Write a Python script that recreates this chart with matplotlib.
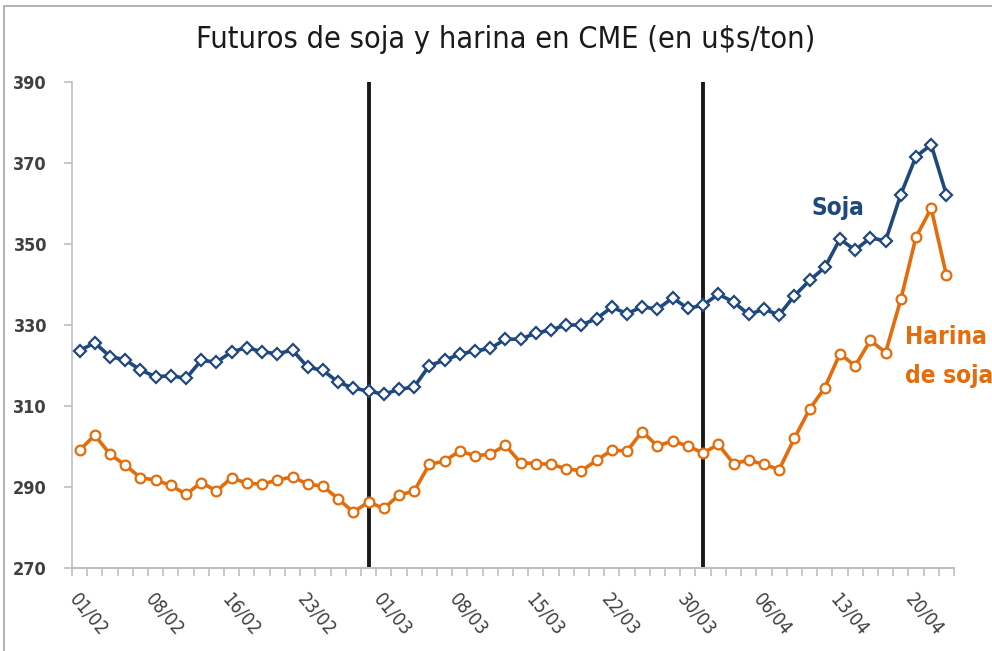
import numpy as np
import matplotlib
matplotlib.use("Agg")
import matplotlib.pyplot as plt
from matplotlib.patches import Rectangle

# fechas (dias habiles CME, feb-abr 2016)
etiquetas = ["01/02", "08/02", "16/02", "23/02", "01/03", "08/03",
             "15/03", "22/03", "30/03", "06/04", "13/04", "20/04"]
pos_etiquetas = [0, 5, 10, 15, 20, 25, 30, 35, 40, 45, 50, 55]
fin_de_mes = [19, 41]  # 29/02 y 31/03

soja = [323.7, 325.6, 322.2, 321.4, 318.9, 317.2, 317.5, 316.8, 321.3, 320.8,
        323.4, 324.4, 323.4, 322.9, 323.8, 319.6, 318.8, 315.9, 314.4, 313.7,
        312.9, 314.1, 314.7, 320.0, 321.3, 322.8, 323.6, 324.2, 326.5, 326.5,
        328.0, 328.8, 330.0, 330.0, 331.6, 334.4, 332.8, 334.5, 333.9, 336.7,
        334.1, 334.9, 337.6, 335.7, 332.6, 333.9, 332.5, 337.2, 341.0, 344.2,
        351.2, 348.5, 351.5, 350.8, 362.2, 371.6, 374.5, 362.2]

harina = [299.1, 302.8, 298.1, 295.4, 292.3, 291.7, 290.4, 288.2, 291.1, 289.0,
          292.3, 290.9, 290.7, 291.7, 292.5, 290.7, 290.2, 287.1, 283.8, 286.3,
          284.7, 288.0, 289.0, 295.6, 296.4, 298.9, 297.7, 298.1, 300.3, 296.0,
          295.8, 295.6, 294.5, 294.0, 296.6, 299.1, 298.9, 303.7, 300.1, 301.4,
          300.1, 298.4, 300.5, 295.8, 296.6, 295.6, 294.3, 302.0, 309.2, 314.5,
          322.9, 319.9, 326.2, 323.2, 336.3, 351.7, 358.8, 342.3]

azul = "#1F497D"
naranja = "#E46C0A"
gris = "#BFBFBF"
fuente = dict(family=["DejaVu Sans", "Liberation Sans"], stretch="condensed")

x = np.arange(len(soja))

fig = plt.figure(figsize=(9.92, 6.51), dpi=100)
ax = fig.add_axes([72/992, (651-568)/651, (954-72)/992, (568-82)/651])

# marco del grafico
fig.patches.append(Rectangle((4/992, -0.1), 1.2, (651-6)/651 + 0.1, transform=fig.transFigure,
                             fill=False, edgecolor="#A6A6A6", linewidth=1.2))

for xv in fin_de_mes:
    ax.axvline(xv, color="#1A1A1A", linewidth=2.8, zorder=1)

ax.plot(x, soja, color=azul, linewidth=2.6, marker="D", markersize=6.5,
        markerfacecolor="white", markeredgecolor=azul, markeredgewidth=1.6, zorder=3)
ax.plot(x, harina, color=naranja, linewidth=2.6, marker="o", markersize=7,
        markerfacecolor="white", markeredgecolor=naranja, markeredgewidth=1.6, zorder=3)

ax.set_xlim(-0.5, len(soja) - 0.5)
ax.set_ylim(270, 390)
ax.set_yticks(np.arange(270, 391, 20))
ax.set_yticklabels([str(v) for v in range(270, 391, 20)], fontsize=13,
                   color="#404040", fontweight="bold", **fuente)

ax.set_xticks(np.arange(-0.5, len(soja), 1), minor=True)
ax.set_xticks(pos_etiquetas)
ax.set_xticklabels(etiquetas, rotation=-50, ha="left", va="top", rotation_mode="anchor",
                   fontsize=13.5, color="#404040", **fuente)
ax.tick_params(axis="x", which="major", length=0, pad=16)
ax.tick_params(axis="x", which="minor", length=6, color=gris, width=1.2)
ax.tick_params(axis="y", length=6, color=gris, width=1.2, pad=12)

for lado in ["top", "right"]:
    ax.spines[lado].set_visible(False)
ax.spines["left"].set_color(gris)
ax.spines["bottom"].set_color(gris)
ax.spines["left"].set_linewidth(1.2)
ax.spines["bottom"].set_linewidth(1.5)

fig.text(0.51, 0.94, "Futuros de soja y harina en CME (en u$s/ton)", ha="center", va="center",
         fontsize=22, color="#1A1A1A", **fuente)

ax.text(49.9, 359, "Soja", color=azul, fontsize=17.5, fontweight="bold",
        ha="center", va="center", **fuente)
ax.text(54.3, 327, "Harina", color=naranja, fontsize=17.5, fontweight="bold",
        ha="left", va="center", **fuente)
ax.text(54.3, 317.5, "de soja", color=naranja, fontsize=17.5, fontweight="bold",
        ha="left", va="center", **fuente)

fig.savefig("out.png", dpi=100)
